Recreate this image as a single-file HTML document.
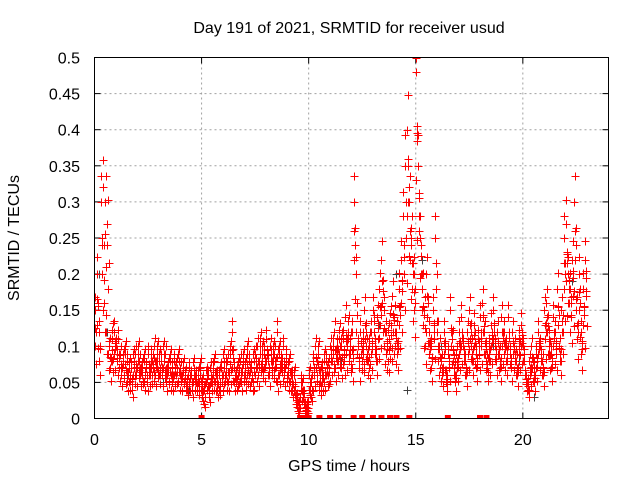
<!DOCTYPE html>
<html><head><meta charset="utf-8"><style>
body{margin:0;background:#fff}
svg{font-family:"Liberation Sans",sans-serif;font-size:16px}
</style></head><body>
<svg id="chart" width="640" height="480">
<defs><clipPath id="pc"><rect x="94" y="57" width="515" height="362"/></clipPath></defs>
<text x="349" y="33" text-anchor="middle">Day 191 of 2021, SRMTID for receiver usud</text>
<text x="349" y="471" text-anchor="middle">GPS time / hours</text>
<text transform="translate(19,238) rotate(-90)" text-anchor="middle">SRMTID / TECUs</text>
<g id="grid"></g><g id="ticks"></g><g id="marks" clip-path="url(#pc)"></g>
<rect x="94.5" y="57.5" width="514" height="361" fill="none" stroke="#000"/>
</svg>
<script>
const xTicks=[0,5,10,15,20];
const yTicks=[0,0.05,0.1,0.15,0.2,0.25,0.3,0.35,0.4,0.45,0.5];
const yTickLabels=["0","0.05","0.1","0.15","0.2","0.25","0.3","0.35","0.4","0.45","0.5"];
const step=0.1;
const redA=[0.15,0.2,0.12,0.3,0.32,0.3,0.27,0.1,0.08,0.12,0.1,
0.11,0.09,0.07,0.06,0.08,0.05,0.07,0.06,0.09,0.07,
0.08,0.06,0.05,0.07,0.09,0.06,0.08,0.10,0.07,0.06,
0.08,0.07,0.09,0.06,0.05,0.07,0.08,0.06,0.05,0.07,
0.06,0.05,0.04,0.07,0.06,0.05,0.06,0.04,0.05,0.03,
0.02,0.05,0.06,0.07,0.05,0.08,0.06,0.04,0.07,0.06,
0.05,0.08,0.06,0.12,0.07,0.05,0.06,0.08,0.07,0.05,
0.06,0.08,0.07,0.05,0.09,0.1,0.08,0.07,0.09,0.11,
0.08,0.1,0.07,0.09,0.12,0.06,0.08,0.1,0.07,0.05,
0.08,0.06,0.04,0.02,0.01,0.03,0.05,0.02,0.01,0.04,
0.03,0.08,0.1,0.06,0.04,0.07,0.05,0.08,0.06,0.1,
0.08,0.12,0.1,0.09,0.07,0.11,0.14,0.1,0.08,0.12,
0.3,0.2,0.1,0.12,0.08,0.15,0.1,0.07,0.12,0.15,
0.1,0.14,0.18,0.22,0.15,0.12,0.08,0.1,0.17,0.14,
0.12,0.18,0.22,0.28,0.35,0.4,0.3,0.25,0.2,0.48,
0.35,0.25,0.18,0.15,0.2,0.12,0.1,0.15,0.25,0.12,
0.1,0.08,0.12,0.06,0.09,0.15,0.11,0.07,0.09,0.12,
0.14,0.1,0.08,0.12,0.15,0.1,0.13,0.09,0.11,0.14,
0.16,0.12,0.08,0.1,0.13,0.15,0.1,0.12,0.09,0.14,
0.12,0.1,0.14,0.09,0.12,0.1,0.08,0.11,0.13,0.1,
0.06,0.05,0.08,0.1,0.07,0.09,0.12,0.1,0.08,0.15,
0.16,0.11,0.09,0.14,0.12,0.18,0.1,0.15,0.25,0.27,
0.2,0.18,0.22,0.3,0.15,0.2,0.12,0.18,0.22];
const redB=[0.1,0.13,0.08,0.2,0.16,0.12,0.09,0.07,0.11,0.09,0.08,
0.07,0.06,0.08,0.09,0.05,0.07,0.04,0.08,0.06,0.09,
0.06,0.07,0.08,0.05,0.06,0.08,0.07,0.06,0.09,0.08,
0.06,0.09,0.05,0.07,0.08,0.05,0.06,0.07,0.08,0.05,
0.07,0.06,0.05,0.05,0.04,0.07,0.05,0.06,0.07,0.05,
0.04,0.06,0.03,0.05,0.07,0.05,0.04,0.06,0.05,0.08,
0.07,0.05,0.09,0.07,0.05,0.06,0.07,0.05,0.08,0.07,
0.09,0.06,0.05,0.08,0.07,0.06,0.1,0.09,0.07,0.08,
0.06,0.08,0.09,0.07,0.05,0.09,0.07,0.06,0.08,0.07,
0.05,0.04,0.06,0.03,0.02,0.05,0.03,0.01,0.02,0.06,
0.05,0.06,0.07,0.09,0.06,0.05,0.08,0.06,0.07,0.08,
0.1,0.07,0.08,0.11,0.1,0.08,0.09,0.12,0.1,0.07,
0.22,0.12,0.07,0.09,0.1,0.11,0.08,0.1,0.09,0.12,
0.08,0.11,0.13,0.16,0.1,0.09,0.11,0.13,0.12,0.1,
0.09,0.13,0.16,0.2,0.25,0.3,0.22,0.18,0.15,0.33,
0.26,0.2,0.13,0.1,0.14,0.09,0.07,0.11,0.18,0.08,
0.07,0.06,0.09,0.05,0.07,0.1,0.08,0.05,0.07,0.09,
0.1,0.08,0.06,0.09,0.11,0.08,0.1,0.07,0.09,0.1,
0.12,0.09,0.07,0.08,0.1,0.11,0.08,0.09,0.07,0.1,
0.09,0.08,0.1,0.07,0.09,0.08,0.06,0.09,0.1,0.08,
0.05,0.04,0.06,0.07,0.05,0.07,0.09,0.08,0.06,0.11,
0.12,0.09,0.07,0.1,0.09,0.13,0.08,0.12,0.18,0.19,
0.16,0.14,0.17,0.22,0.11,0.15,0.09,0.13,0.17];
const grayT=[0.2,0.6,1.5,3.2,4.4,6.1,7.8,9.2,11.5,13.3,14.1,14.6,15.3,16.2,17.4,18.6,19.8,20.5,21.4,22.3,22.7];
const grayV=[0.2,0.12,0.06,0.05,0.04,0.06,0.07,0.05,0.08,0.13,0.2,0.04,0.22,0.1,0.12,0.1,0.08,0.03,0.14,0.19,0.09];
const zeroT=[5.0,9.6,9.8,10.0,10.5,11.0,11.4,12.1,12.5,13.0,13.4,13.8,14.1,14.7,16.5,18.0,18.3];
const NS="http://www.w3.org/2000/svg";
const X=t=>94.5+t*(514/24), Y=v=>418.5-v*(361/0.5);
const grid=document.getElementById('grid'),ticks=document.getElementById('ticks'),marks=document.getElementById('marks');
function mk(tag,attrs,parent){const e=document.createElementNS(NS,tag);for(const k in attrs)e.setAttribute(k,attrs[k]);parent.appendChild(e);return e;}
xTicks.forEach(t=>{const x=X(t);
 if(t>0){const g=mk('line',{x1:x,x2:x,y1:57.5,y2:418.5,stroke:'#a0a0a0','stroke-dasharray':'2,3'},grid);
 }
 mk('line',{x1:x,x2:x,y1:418.5,y2:412.5,stroke:'#000'},ticks);mk('line',{x1:x,x2:x,y1:57.5,y2:63.5,stroke:'#000'},ticks);
 const l=mk('text',{x:x,y:445,'text-anchor':'middle'},ticks);l.textContent=t;
 });
yTicks.forEach((v,i)=>{const y=Y(v);
 if(v>0&&v<0.5){const g=mk('line',{x1:94.5,x2:608.5,y1:y,y2:y,stroke:'#a0a0a0','stroke-dasharray':'2,3'},grid);
 }
 mk('line',{x1:94.5,x2:100.5,y1:y,y2:y,stroke:'#000'},ticks);mk('line',{x1:602.5,x2:608.5,y1:y,y2:y,stroke:'#000'},ticks);
 const l=mk('text',{x:80,y:y+6,'text-anchor':'end'},ticks);l.textContent=yTickLabels[i];
 });
function plus(t,v,c,name){v=Math.min(v,0.5);const x=Math.round(X(t))+0.5,y=Math.round(Y(v))+0.5;
 const p=mk('path',{d:`M${x-4},${y}H${x+4}M${x},${y-4}V${y+4}`,stroke:c,'stroke-width':1,fill:'none'},marks);
 }
grayT.forEach((t,i)=>plus(t,grayV[i],'#404040','gray-point'));
redA.forEach((v,i)=>{const b=redB[i];
 plus(i*step,v,'#ff0000','red-point');
 plus(i*step+0.04,(v+b)/2,'#ff0000','red-point');
 plus(i*step+0.07,v*0.8,'#ff0000','red-point');
 plus(i*step+0.02,Math.max(v,b)*1.12,'#ff0000','red-point');});
redB.forEach((v,i)=>{
 plus(i*step+0.03,v,'#ff0000','red-point');
 plus(i*step+0.08,v*0.75,'#ff0000','red-point');
 plus(i*step+0.06,v*1.2,'#ff0000','red-point');});
zeroT.forEach(t=>{const r=mk('rect',{x:X(t)-3,y:415,width:6,height:4,fill:'#ff0000'},marks);
 });
</script>
</body></html>
